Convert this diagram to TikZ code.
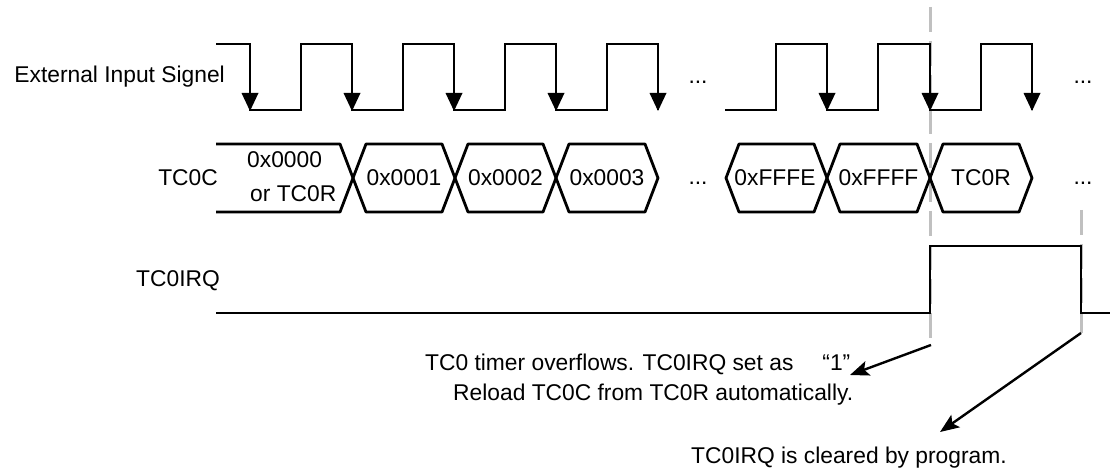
\documentclass[tikz,border=0pt]{standalone}
\usepackage{fontspec}
\setmainfont{Liberation Sans}
\usetikzlibrary{arrows.meta}
\definecolor{guidegray}{RGB}{192,192,192}
\begin{document}
\begin{tikzpicture}[x=1pt,y=-1pt,
  wave/.style={line width=2.8pt, line join=miter, line cap=butt},
  bus/.style={line width=2.8pt, line join=round},
  guide/.style={line width=3pt, draw=guidegray, dash pattern=on 25pt off 9pt},
  note/.style={line width=2.4pt, -{Stealth[length=19pt,width=15pt,inset=4pt]}},
  txt/.style={inner sep=0pt, font=\fontsize{22.8}{27}\selectfont}]
\useasboundingbox (0,0) rectangle (1110,470);
\fill[white] (0,0) rectangle (1110,470);

% guide lines
\draw[guide] (930,7) -- (930,338);
\draw[guide] (1081,210) -- (1081,333);

% external input signal
\draw[wave] (216,44) -| (250,110) -| (301,44) -| (352,110) -| (403,44) -| (454,110) -| (505,44) -| (556,110) -| (607,44) -| (658,110);
\draw[wave] (725,110) -| (776,44) -| (827,110) -| (878,44) -| (930,110) -| (981,44) -| (1032,110);
\foreach \x in {250,352,454,556,658,827,930,1032}
  \fill (\x-8.5,93) -- (\x+8.5,93) -- (\x,111) -- cycle;

% TC0C bus
\draw[bus] (216,144) -- (340,144) -- (353,178) -- (340,212) -- (216,212);
\foreach \a/\b in {353/455,455/556,556/658,726/827,827/930,930/1032}
  \draw[bus] (\a,178) -- (\a+13,144) -- (\b-13,144) -- (\b,178) -- (\b-13,212) -- (\a+13,212) -- cycle;

% TC0IRQ
\draw[wave] (216,313) -| (930,246) -| (1081,313) -- (1110,313);

% labels
\node[txt, anchor=base east] (sig) at (225,83) {External Input Signel};
\node[txt, anchor=base east] (tcc) at (218,186) {TC0C};
\node[txt, anchor=base east] (irq) at (220,286) {TC0IRQ};

% bus values
\node[txt, anchor=base west] (v0a) at (247,168) {0x0000};
\node[txt, anchor=base west] (v0b) at (250,202) {or TC0R};
\node[txt] (v1) at (404,178) {0x0001};
\node[txt] (v2) at (505.5,178) {0x0002};
\node[txt] (v3) at (607,178) {0x0003};
\node[txt] (vfe) at (775,178) {0xFFFE};
\node[txt] (vff) at (878.5,178) {0xFFFF};
\node[txt] (vr) at (981,178) {TC0R};

% ellipses
\node[txt, anchor=base] (d1) at (698,84) {...};
\node[txt, anchor=base] (d2) at (698,185) {...};
\node[txt, anchor=base] (d3) at (1083,84) {...};
\node[txt, anchor=base] (d4) at (1083,185) {...};

% annotations
\node[txt, anchor=base west] (n1) at (425,370) {TC0 timer overflows. TC0IRQ set as\hspace{29pt}“1”};
\node[txt, anchor=base west] (n2) at (453,400) {Reload TC0C from TC0R automatically.};
\node[txt, anchor=base west] (n3) at (691,463) {TC0IRQ is cleared by program.};

\coordinate (o1) at (931,345);
\coordinate (t1) at (850,375);
\draw[note] (o1) -- (t1);
\coordinate (o2) at (1081,333);
\coordinate (t2) at (940,432);
\draw[note] (o2) -- (t2);
\end{tikzpicture}
\end{document}
